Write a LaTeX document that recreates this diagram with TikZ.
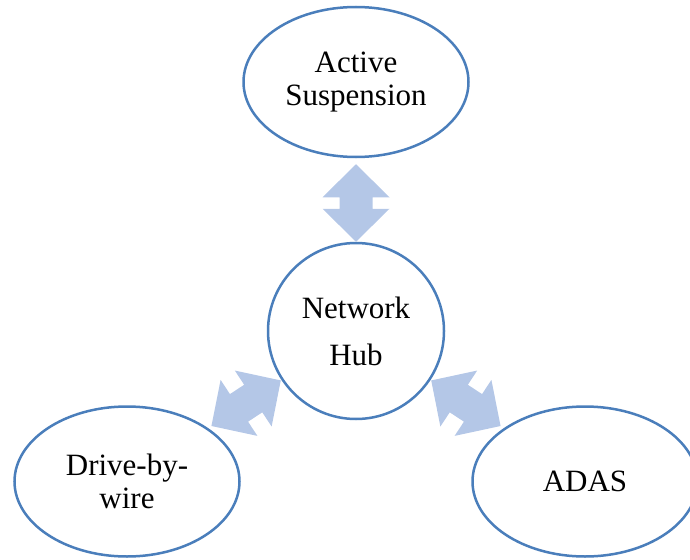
\documentclass[tikz,border=0pt]{standalone}
\usepackage{fontspec}
\setmainfont{Liberation Serif}
\usetikzlibrary{shapes.geometric,calc}

\definecolor{rim}{HTML}{4A7EBB}
\definecolor{arrowfill}{HTML}{B4C7E7}

\tikzset{
  labeltext/.style={font=\fontsize{31}{33}\selectfont, text=black},
  bubble/.style={ellipse, draw=rim, line width=2.5pt, fill=white,
    minimum width=225pt, minimum height=150pt, inner sep=0pt,
    align=center, labeltext},
  hubdisc/.style={circle, draw=rim, line width=2.5pt, fill=white,
    minimum size=176pt, inner sep=0pt, align=center, labeltext},
}

% Block double arrow between two tip points:
% head length 33pt, head half-width 33.5pt, shaft half-width 16.5pt
\newcommand\twoway[2]{%
  \fill[arrowfill] (#1)
    -- ($(#1)!33pt!(#2)!33.5pt!90:(#2)$)
    -- ($(#1)!33pt!(#2)!16.5pt!90:(#2)$)
    -- ($(#2)!33pt!(#1)!16.5pt!-90:(#1)$)
    -- ($(#2)!33pt!(#1)!33.5pt!-90:(#1)$)
    -- (#2)
    -- ($(#2)!33pt!(#1)!33.5pt!90:(#1)$)
    -- ($(#2)!33pt!(#1)!16.5pt!90:(#1)$)
    -- ($(#1)!33pt!(#2)!16.5pt!-90:(#2)$)
    -- ($(#1)!33pt!(#2)!33.5pt!-90:(#2)$)
    -- cycle;}

\begin{document}
\begin{tikzpicture}[x=1pt, y=-1pt]
  \useasboundingbox (0,0) rectangle (690,559);
  \clip (0,0) rectangle (690,559);

  \node[bubble]  (susp)  at (356,82)    {Active\\Suspension};
  \node[hubdisc] (hub)   at (356,331)   {Network\\[14pt]Hub};
  \node[bubble]  (drive) at (127,481.5) {Drive-by-\\wire};
  \node[bubble]  (adas)  at (585,481.5) {ADAS};

  % arrow tips
  \coordinate (a1) at ($(susp.south)+(0,6)$);
  \coordinate (a2) at (hub.north);
  \coordinate (b1) at ($(hub)!90pt!(drive)$);
  \coordinate (b2) at ($(hub)!173pt!(drive)$);
  \coordinate (c1) at ($(hub)!90pt!(adas)$);
  \coordinate (c2) at ($(hub)!173pt!(adas)$);

  \twoway{a1}{a2}
  \twoway{b1}{b2}
  \twoway{c1}{c2}
\end{tikzpicture}
\end{document}
